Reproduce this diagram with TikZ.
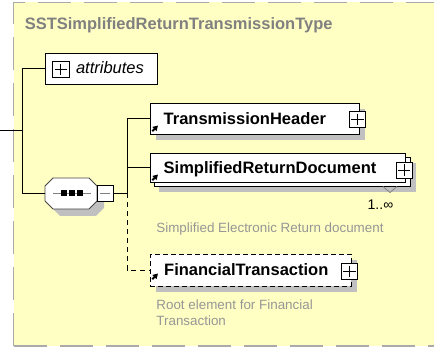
\documentclass[tikz,border=0pt]{standalone}
\usepackage{fontspec}
\setmainfont{Liberation Sans}
\usetikzlibrary{arrows.meta,shadows}
\definecolor{ybg}{RGB}{255,255,196}
\definecolor{bordc}{RGB}{170,170,170}
\definecolor{shadc}{RGB}{192,192,192}
\definecolor{titlec}{RGB}{128,128,128}
\definecolor{descc}{RGB}{150,150,150}
\definecolor{octc}{RGB}{70,70,70}
\tikzset{
  border/.style={draw=bordc, line width=1.5pt, dash pattern=on 33pt off 13pt},
  conn/.style={draw=black, line width=0.9pt},
  optconn/.style={conn, dash pattern=on 5pt off 4pt},
  elem/.style={draw=black, fill=white, line width=0.9pt, inner sep=0pt,
    drop shadow={fill=shadc, opacity=1, shadow xshift=6pt, shadow yshift=-6pt}},
  plainbox/.style={draw=black, fill=white, line width=0.9pt, inner sep=0pt},
  plusbox/.style={draw=black, fill=white, line width=0.8pt, inner sep=0pt,
    minimum width=16.5pt, minimum height=16pt},
  elname/.style={inner sep=0pt, anchor=base west, font=\fontsize{16.5}{19}\selectfont\bfseries},
  desctext/.style={inner sep=0pt, anchor=base west, text=descc, font=\fontsize{13.4}{16.7}\selectfont},
  refarrow/.style={-{Triangle[length=5pt,width=5.5pt]}, line width=1.8pt, black},
}
\newcommand{\plussign}[1]{%
  \draw[line width=0.7pt] ([xshift=2.5pt]#1.west) -- ([xshift=-2.5pt]#1.east);
  \draw[line width=0.7pt] ([yshift=-2.5pt]#1.north) -- ([yshift=2.5pt]#1.south);}
\begin{document}
\begin{tikzpicture}[x=1pt,y=-1pt]
\useasboundingbox (0,0) rectangle (434,347);
% background panel
\begin{scope}
\clip (0,0) rectangle (434,347);
\fill[ybg] (13.5,2.5) rectangle (440,346);
\draw[border] (13.5,346) -- (13.5,2.5) -- (440,2.5);
\draw[border] (13.5,346) -- (440,346);
\end{scope}
% title
\node[elname, text=titlec] (title) at (24.6,29.2) {SSTSimplifiedReturnTransmissionType};
% attributes
\node[plainbox, minimum width=112pt, minimum height=31pt] (attr) at (101,68.5) {};
\node[plusbox] (attrplus) at (60.8,69.5) {};
\plussign{attrplus}
\node[inner sep=0pt, anchor=base west, font=\fontsize{16.5}{19}\selectfont\itshape] (attrtext) at (75.8,73.5) {attributes};
% sequence compositor
\fill[shadc] (60,185) -- (96,185) -- (104,193) -- (104,208) -- (96,216) -- (60,216) -- (52,208) -- (52,193) -- cycle;
\draw[octc, fill=white, line width=0.9pt] (53,178) -- (89,178) -- (97,186) -- (97,201) -- (89,209) -- (53,209) -- (45,201) -- (45,186) -- cycle;
\node[inner sep=0pt, minimum width=52pt, minimum height=31pt] (seq) at (71,193.5) {};
\draw[gray, line width=1.2pt] (53,193.5) -- (91,193.5);
\fill[black] (61,190.5) rectangle (67,196.5);
\fill[black] (69,190.5) rectangle (75,196.5);
\fill[black] (77,190.5) rectangle (83,196.5);
\node[plainbox, minimum width=16pt, minimum height=16.5pt] (minus) at (105,193.5) {};
\draw[gray, line width=1pt] (100,193.5) -- (110,193.5);
% TransmissionHeader
\node[elem, minimum width=209pt, minimum height=31pt] (th) at (254.5,118.5) {};
\node[plusbox] (thplus) at (357.5,119.6) {};
\plussign{thplus}
\node[elname] (thtext) at (163.5,125) {TransmissionHeader};
\draw[refarrow] (152.3,131.2) -- (158,125.5);
% SimplifiedReturnDocument
\node[elem, drop shadow={fill=shadc, opacity=1, shadow xshift=4pt, shadow yshift=-6pt},
      minimum width=255.5pt, minimum height=29.5pt] (srdback) at (282.25,171.75) {};
\draw[gray, line width=0.8pt] (383,186.5) -- (390,192.5) -- (397,186.5);
\node[plainbox, minimum width=255pt, minimum height=29.5pt] (srd) at (277.5,167.75) {};
\node[plusbox] (srdplus) at (404.3,170) {};
\plussign{srdplus}
\node[elname] (srdtext) at (163.5,174) {SimplifiedReturnDocument};
\draw[refarrow] (152.3,180.2) -- (158,174.5);
\node[inner sep=0pt, anchor=base west, font=\fontsize{14}{16}\selectfont] (srdcard) at (367.5,209.3) {1..∞};
\node[desctext] (srddesc) at (156.2,233) {Simplified Electronic Return document};
% FinancialTransaction
\node[elem, dash pattern=on 5pt off 3pt, minimum width=201pt, minimum height=31.5pt] (ft) at (250.5,270.25) {};
\node[plusbox] (ftplus) at (349.6,271.5) {};
\plussign{ftplus}
\node[elname] (fttext) at (164,275.5) {FinancialTransaction};
\draw[refarrow] (152.3,279.2) -- (158,273.5);
\node[desctext, align=left, anchor=north west] (ftdesc) at (156.2,299.3) {Root element for Financial\\Transaction};
% connectors
\coordinate (in) at (0,130.5);
\coordinate (jx) at (22,0);
\coordinate (bx) at (127,0);
\draw[conn] (in) -- (in -| jx);
\draw[conn] (attr.west) -- (attr.west -| jx) |- (seq.west);
\draw[conn] (th.west) -- (th.west -| bx) -- (minus.east -| bx) -- (minus.east);
\draw[conn] (srd.west) -- (srd.west -| bx);
\draw[optconn] (minus.east -| bx) |- (ft.west);
\end{tikzpicture}
\end{document}
